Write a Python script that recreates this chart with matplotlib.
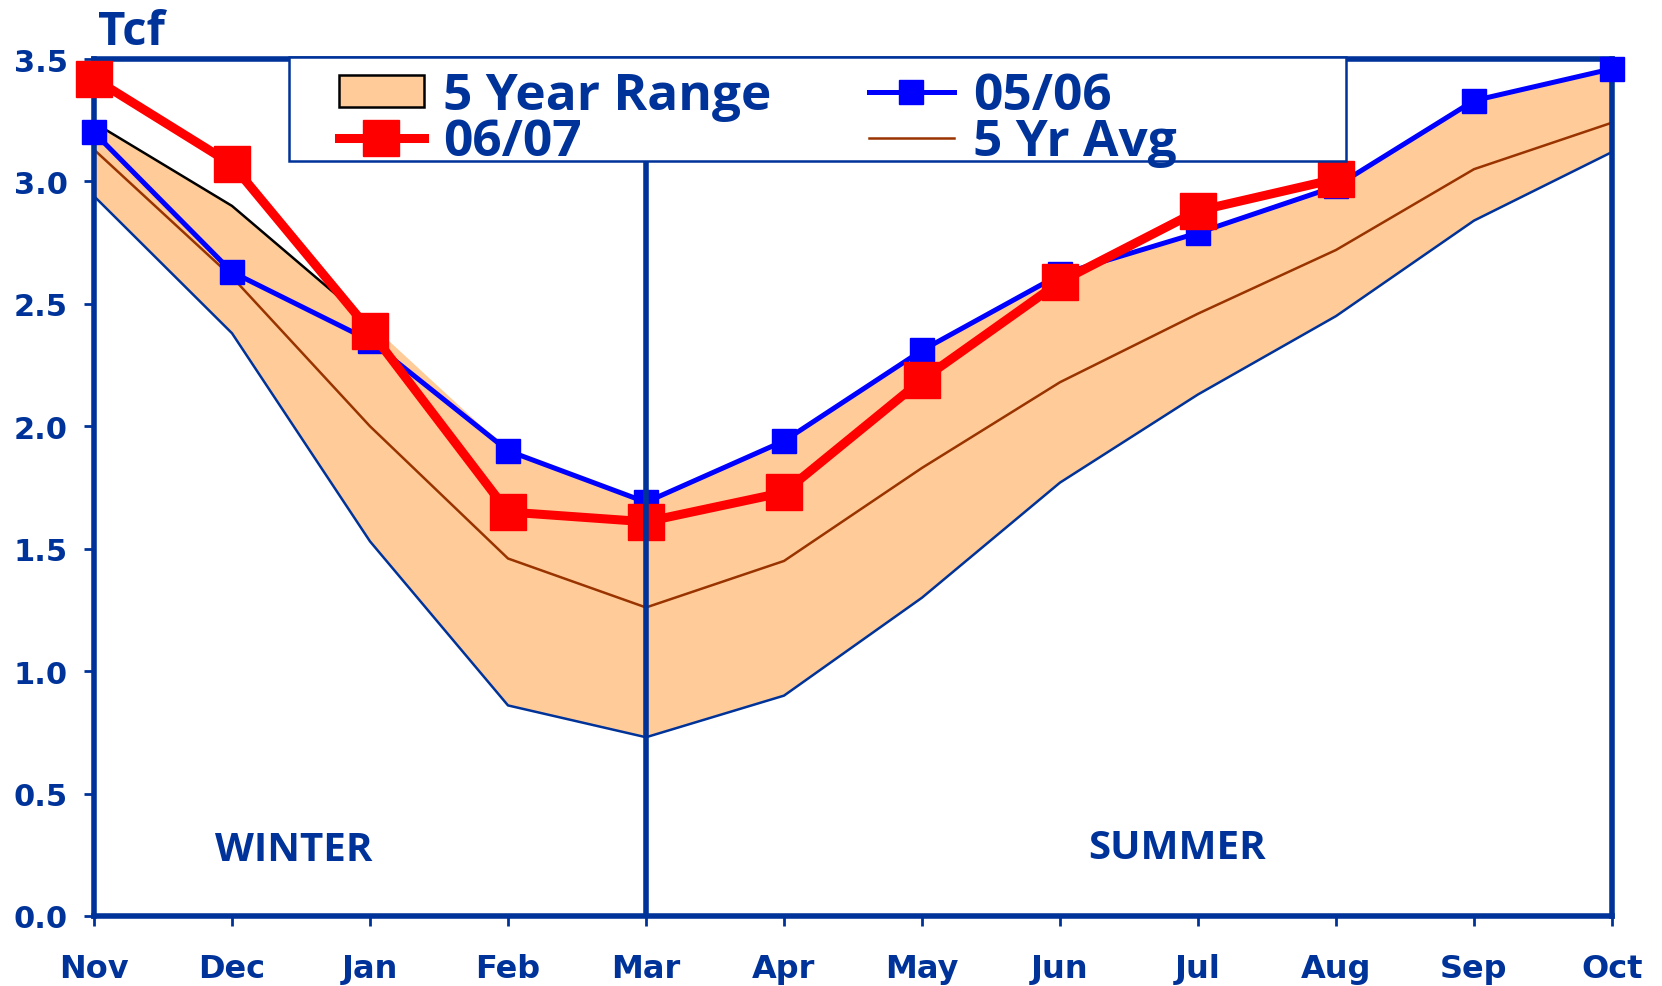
import matplotlib.pyplot as plt
from matplotlib.patches import Patch, Rectangle
from matplotlib.lines import Line2D

# Monthly storage, Tcf
months = ['Nov', 'Dec', 'Jan', 'Feb', 'Mar', 'Apr', 'May', 'Jun', 'Jul', 'Aug', 'Sep', 'Oct']
range_high = [3.24, 2.90, 2.42, 1.90, 1.69, 1.94, 2.31, 2.62, 2.79, 2.98, 3.33, 3.46]
range_low = [2.94, 2.38, 1.53, 0.86, 0.73, 0.90, 1.30, 1.77, 2.13, 2.45, 2.84, 3.12]
avg_5yr = [3.13, 2.61, 2.00, 1.46, 1.26, 1.45, 1.83, 2.18, 2.46, 2.72, 3.05, 3.24]
s0506 = [3.20, 2.63, 2.35, 1.90, 1.69, 1.94, 2.31, 2.62, 2.79, 2.98, 3.33, 3.46]
s0607 = [3.42, 3.07, 2.39, 1.65, 1.61, 1.73, 2.19, 2.59, 2.88, 3.01]

NAVY = '#003399'
plt.rcParams['font.family'] = ['Open Sans', 'DejaVu Sans']
plt.rcParams['font.weight'] = 'bold'

fig = plt.figure(figsize=(16.62, 9.87), dpi=100)
ax = fig.add_axes([94 / 1662, 1 - 917 / 987, 1518 / 1662, 857 / 987])

x = list(range(len(months)))
x07 = x[:len(s0607)]

# 5 year band
ax.fill_between(x, range_low, range_high, color='#FFCC99', lw=0, zorder=1)
ax.plot(x[:3], range_high[:3], color='black', lw=1.8, zorder=2)
ax.plot([x[-1], x[-1]], [range_low[-1], range_high[-1]], color='black', lw=2.5, zorder=2)
ax.plot(x, range_low, color=NAVY, lw=1.8, zorder=2)
ax.plot(x, avg_5yr, color='#993300', lw=1.8, zorder=2)

ax.plot(x, s0506, color='#0000FF', lw=3.6, marker='s', ms=17, zorder=4, clip_on=False)
ax.plot(x07, s0607, color='#FF0000', lw=6.5, marker='s', ms=26, zorder=5, clip_on=False)

# winter / summer divider
ax.axvline(4, color=NAVY, lw=4, zorder=6)

ax.set_xlim(0, 11)
ax.set_ylim(0, 3.5)
ax.set_xticks(x)
ax.set_xticklabels(months)
ax.set_yticks([i * 0.5 for i in range(8)])
ax.set_yticklabels([f'{i * 0.5:.1f}' for i in range(8)])
ax.tick_params(colors=NAVY, width=2, length=7, labelfontfamily='DejaVu Sans')
ax.tick_params(axis='x', pad=20, labelsize=23)
ax.tick_params(axis='y', pad=12, labelsize=22)
for sp in ax.spines.values():
    sp.set_color(NAVY)
    sp.set_linewidth(4)
    sp.set_zorder(3)

ax.text(1.45, 0.27, 'WINTER', color=NAVY, fontsize=29, ha='center', va='center')
ax.text(7.85, 0.28, 'SUMMER', color=NAVY, fontsize=29, ha='center', va='center')
fig.text(98 / 1662, 1 - 45 / 987, 'Tcf', color=NAVY, fontsize=34, va='baseline')

# legend box
ax.add_patch(Rectangle((0.1285, 0.881), 0.6963, 0.1213, transform=ax.transAxes,
                       facecolor='white', edgecolor=NAVY, lw=1.8, zorder=9, clip_on=False))
handles = [
    Patch(facecolor='#FFCC99', edgecolor='black', lw=1.8),
    Line2D([], [], color='#FF0000', lw=6.5, marker='s', ms=26),
    Line2D([], [], color='#0000FF', lw=3.6, marker='s', ms=17),
    Line2D([], [], color='#993300', lw=1.8),
]
labels = ['5 Year Range', '06/07', '05/06', '5 Yr Avg']
leg = ax.legend(handles, labels, ncol=2, loc='upper left',
                bbox_to_anchor=(0.1614, 0.986), borderaxespad=0, borderpad=0,
                fontsize=37, frameon=False, handlelength=1.65, handleheight=0.6,
                handletextpad=0.37, labelspacing=-0.08, columnspacing=1.9)
leg.set_zorder(10)
for t in leg.get_texts():
    t.set_color(NAVY)

fig.savefig('out.png', dpi=100)
